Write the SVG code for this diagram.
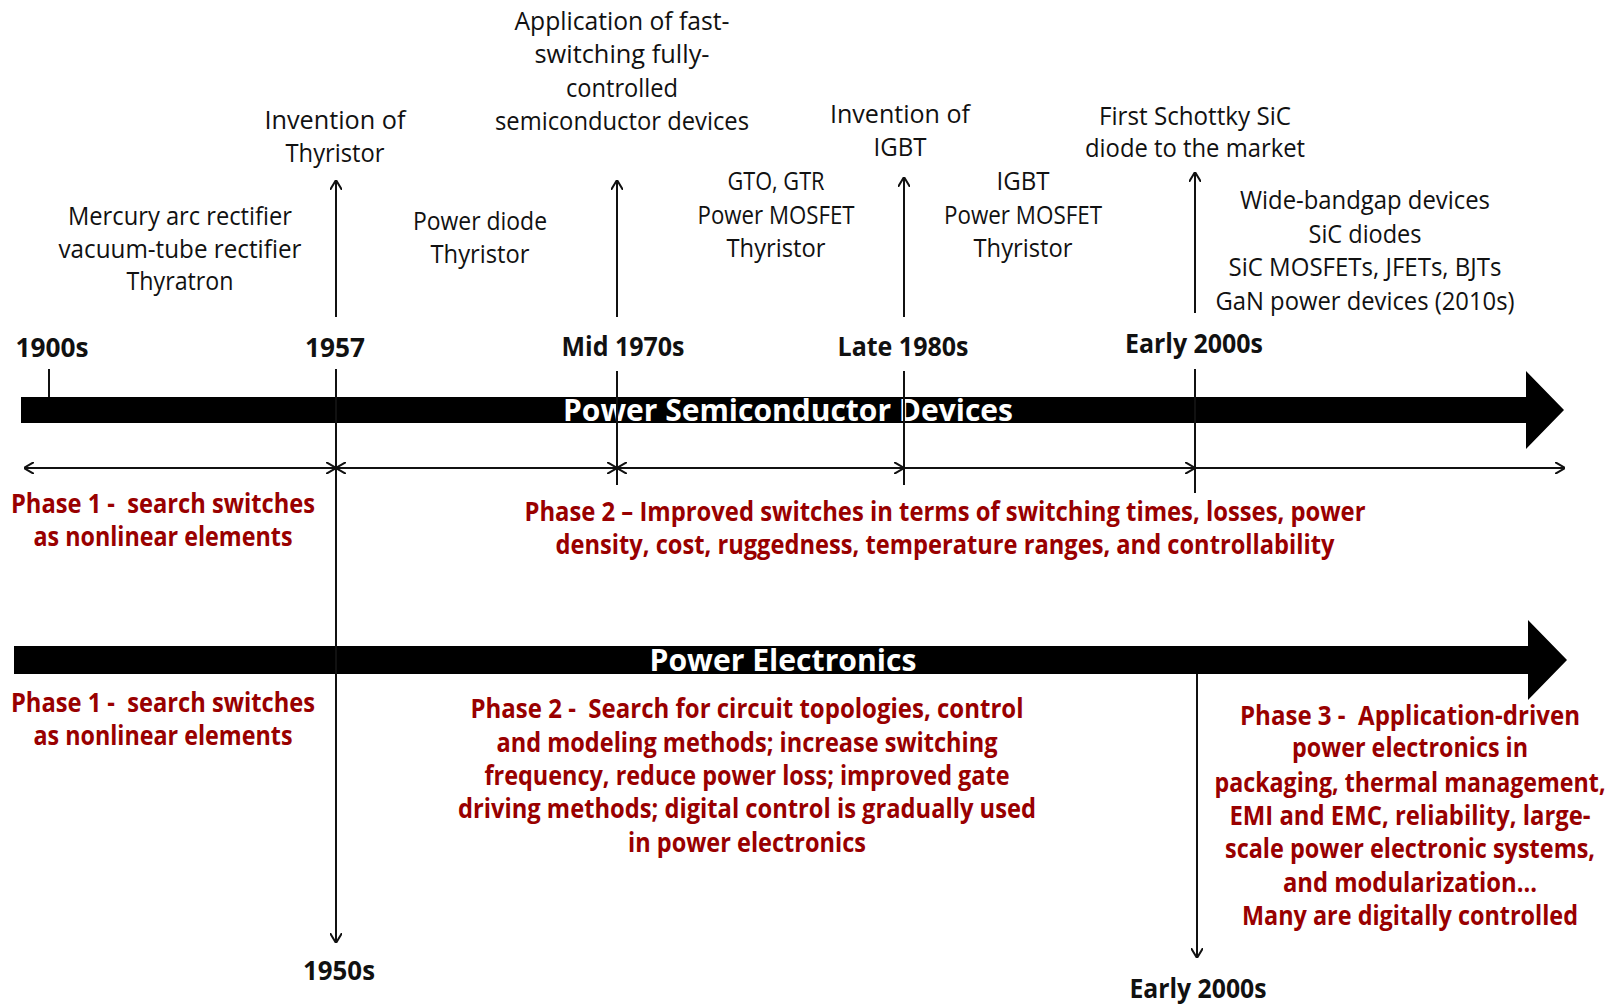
<svg xmlns="http://www.w3.org/2000/svg" width="1617" height="1005" viewBox="0 0 1617 1005">
<style>
text { white-space: pre; }
.t { font-family: "Open Sans", "Noto Sans", "DejaVu Sans", sans-serif; font-size: 26px; fill: #111; text-anchor: middle; }
.d { font-family: "Open Sans", "Noto Sans", "DejaVu Sans", sans-serif; font-size: 26px; font-weight: 700; fill: #111; text-anchor: middle; }
.r { font-family: "Open Sans", "Noto Sans", "DejaVu Sans", sans-serif; font-size: 26px; font-weight: 700; fill: #990000; text-anchor: middle; }
.w { font-family: "Open Sans", "Noto Sans", "DejaVu Sans", sans-serif; font-size: 30px; font-weight: 700; fill: #fff; text-anchor: middle; }
.ln { stroke: #111; stroke-width: 2; fill: none; }
.bar { fill: #000; }
</style>
<defs>
<marker id="chev" viewBox="0 0 10 12" refX="10" refY="6" markerWidth="10" markerHeight="12" markerUnits="userSpaceOnUse" orient="auto-start-reverse">
<path d="M0,0 L10,6 L0,12" fill="none" stroke="#111" stroke-width="2"/>
</marker>
</defs>
<rect width="1617" height="1005" fill="#fff"/>

<g id="bar-devices">
<path class="bar" d="M21,397 L1526,397 L1526,371 L1564,410 L1526,449 L1526,423 L21,423 Z"/>
<text class="w" x="788" y="421" textLength="450" lengthAdjust="spacingAndGlyphs">Power Semiconductor Devices</text>
</g>
<g id="bar-electronics">
<path class="bar" d="M14,646 L1528,646 L1528,620 L1567,660 L1528,700 L1528,674 L14,674 Z"/>
<text class="w" x="783" y="671" textLength="267" lengthAdjust="spacingAndGlyphs">Power Electronics</text>
</g>

<g id="connectors">
<line class="ln" x1="49" y1="369" x2="49" y2="397"/>
<line class="ln" x1="336" y1="369" x2="336" y2="943" marker-end="url(#chev)"/>
<line class="ln" x1="336" y1="317" x2="336" y2="180" marker-end="url(#chev)"/>
<line class="ln" x1="617" y1="371" x2="617" y2="485"/>
<line class="ln" x1="617" y1="317" x2="617" y2="180" marker-end="url(#chev)"/>
<line class="ln" x1="904" y1="371" x2="904" y2="485"/>
<line class="ln" x1="904" y1="317" x2="904" y2="177" marker-end="url(#chev)"/>
<line class="ln" x1="1195" y1="369" x2="1195" y2="493"/>
<line class="ln" x1="1195" y1="313" x2="1195" y2="172" marker-end="url(#chev)"/>
<line class="ln" x1="1197" y1="674" x2="1197" y2="958" marker-end="url(#chev)"/>
<line class="ln" x1="24" y1="468" x2="336" y2="468" marker-start="url(#chev)" marker-end="url(#chev)"/>
<line class="ln" x1="336" y1="468" x2="617" y2="468" marker-start="url(#chev)" marker-end="url(#chev)"/>
<line class="ln" x1="617" y1="468" x2="904" y2="468" marker-start="url(#chev)" marker-end="url(#chev)"/>
<line class="ln" x1="904" y1="468" x2="1195" y2="468" marker-end="url(#chev)"/>
<line class="ln" x1="1195" y1="468" x2="1565" y2="468" marker-end="url(#chev)"/>
</g>

<g id="node-app-fast">
<text class="t" x="622" y="30" textLength="215" lengthAdjust="spacingAndGlyphs">Application of fast-</text>
<text class="t" x="622" y="63" textLength="175" lengthAdjust="spacingAndGlyphs">switching fully-</text>
<text class="t" x="622" y="97" textLength="112" lengthAdjust="spacingAndGlyphs">controlled</text>
<text class="t" x="622" y="130" textLength="254" lengthAdjust="spacingAndGlyphs">semiconductor devices</text>
</g>
<g id="node-inv-thyristor">
<text class="t" x="335" y="129" textLength="141" lengthAdjust="spacingAndGlyphs">Invention of</text>
<text class="t" x="335" y="162" textLength="99" lengthAdjust="spacingAndGlyphs">Thyristor</text>
</g>
<g id="node-mercury">
<text class="t" x="180" y="225" textLength="224" lengthAdjust="spacingAndGlyphs">Mercury arc rectifier</text>
<text class="t" x="180" y="258" textLength="243" lengthAdjust="spacingAndGlyphs">vacuum-tube rectifier</text>
<text class="t" x="180" y="290" textLength="107" lengthAdjust="spacingAndGlyphs">Thyratron</text>
</g>
<g id="node-power-diode">
<text class="t" x="480" y="230" textLength="134" lengthAdjust="spacingAndGlyphs">Power diode</text>
<text class="t" x="480" y="263" textLength="99" lengthAdjust="spacingAndGlyphs">Thyristor</text>
</g>
<g id="node-gto">
<text class="t" x="776" y="190" textLength="97" lengthAdjust="spacingAndGlyphs">GTO, GTR</text>
<text class="t" x="776" y="224" textLength="157" lengthAdjust="spacingAndGlyphs">Power MOSFET</text>
<text class="t" x="776" y="257" textLength="99" lengthAdjust="spacingAndGlyphs">Thyristor</text>
</g>
<g id="node-inv-igbt">
<text class="t" x="900" y="123" textLength="140" lengthAdjust="spacingAndGlyphs">Invention of</text>
<text class="t" x="900" y="156" textLength="53" lengthAdjust="spacingAndGlyphs">IGBT</text>
</g>
<g id="node-igbt">
<text class="t" x="1023" y="190" textLength="53" lengthAdjust="spacingAndGlyphs">IGBT</text>
<text class="t" x="1023" y="224" textLength="158" lengthAdjust="spacingAndGlyphs">Power MOSFET</text>
<text class="t" x="1023" y="257" textLength="99" lengthAdjust="spacingAndGlyphs">Thyristor</text>
</g>
<g id="node-schottky">
<text class="t" x="1195" y="125" textLength="192" lengthAdjust="spacingAndGlyphs">First Schottky SiC</text>
<text class="t" x="1195" y="157" textLength="220" lengthAdjust="spacingAndGlyphs">diode to the market</text>
</g>
<g id="node-wbg">
<text class="t" x="1365" y="209" textLength="250" lengthAdjust="spacingAndGlyphs">Wide-bandgap devices</text>
<text class="t" x="1365" y="243" textLength="113" lengthAdjust="spacingAndGlyphs">SiC diodes</text>
<text class="t" x="1365" y="276" textLength="273" lengthAdjust="spacingAndGlyphs">SiC MOSFETs, JFETs, BJTs</text>
<text class="t" x="1365" y="310" textLength="299" lengthAdjust="spacingAndGlyphs">GaN power devices (2010s)</text>
</g>

<g id="node-dates">
<text class="d" x="52" y="357" textLength="73" lengthAdjust="spacingAndGlyphs">1900s</text>
<text class="d" x="335" y="357" textLength="60" lengthAdjust="spacingAndGlyphs">1957</text>
<text class="d" x="623" y="356" textLength="123" lengthAdjust="spacingAndGlyphs">Mid 1970s</text>
<text class="d" x="903" y="356" textLength="131" lengthAdjust="spacingAndGlyphs">Late 1980s</text>
<text class="d" x="1194" y="353" textLength="138" lengthAdjust="spacingAndGlyphs">Early 2000s</text>
<text class="d" x="339" y="980" textLength="72" lengthAdjust="spacingAndGlyphs">1950s</text>
<text class="d" x="1198" y="998" textLength="137" lengthAdjust="spacingAndGlyphs">Early 2000s</text>
</g>

<g id="node-dev-phase1">
<text class="r" x="163" y="513" textLength="304" lengthAdjust="spacingAndGlyphs">Phase 1 -  search switches</text>
<text class="r" x="163" y="546" textLength="259" lengthAdjust="spacingAndGlyphs">as nonlinear elements</text>
</g>
<g id="node-dev-phase2">
<text class="r" x="945" y="521" textLength="841" lengthAdjust="spacingAndGlyphs">Phase 2 – Improved switches in terms of switching times, losses, power</text>
<text class="r" x="945" y="554" textLength="779" lengthAdjust="spacingAndGlyphs">density, cost, ruggedness, temperature ranges, and controllability</text>
</g>
<g id="node-pe-phase1">
<text class="r" x="163" y="712" textLength="304" lengthAdjust="spacingAndGlyphs">Phase 1 -  search switches</text>
<text class="r" x="163" y="745" textLength="259" lengthAdjust="spacingAndGlyphs">as nonlinear elements</text>
</g>
<g id="node-pe-phase2">
<text class="r" x="747" y="718" textLength="553" lengthAdjust="spacingAndGlyphs">Phase 2 -  Search for circuit topologies, control</text>
<text class="r" x="747" y="752" textLength="501" lengthAdjust="spacingAndGlyphs">and modeling methods; increase switching</text>
<text class="r" x="747" y="785" textLength="525" lengthAdjust="spacingAndGlyphs">frequency, reduce power loss; improved gate</text>
<text class="r" x="747" y="818" textLength="578" lengthAdjust="spacingAndGlyphs">driving methods; digital control is gradually used</text>
<text class="r" x="747" y="852" textLength="238" lengthAdjust="spacingAndGlyphs">in power electronics</text>
</g>
<g id="node-pe-phase3">
<text class="r" x="1410" y="725" textLength="340" lengthAdjust="spacingAndGlyphs">Phase 3 -  Application-driven</text>
<text class="r" x="1410" y="757" textLength="236" lengthAdjust="spacingAndGlyphs">power electronics in</text>
<text class="r" x="1410" y="792" textLength="391" lengthAdjust="spacingAndGlyphs">packaging, thermal management,</text>
<text class="r" x="1410" y="825" textLength="361" lengthAdjust="spacingAndGlyphs">EMI and EMC, reliability, large-</text>
<text class="r" x="1410" y="858" textLength="370" lengthAdjust="spacingAndGlyphs">scale power electronic systems,</text>
<text class="r" x="1410" y="892" textLength="254" lengthAdjust="spacingAndGlyphs">and modularization...</text>
<text class="r" x="1410" y="925" textLength="336" lengthAdjust="spacingAndGlyphs">Many are digitally controlled</text>
</g>
</svg>
